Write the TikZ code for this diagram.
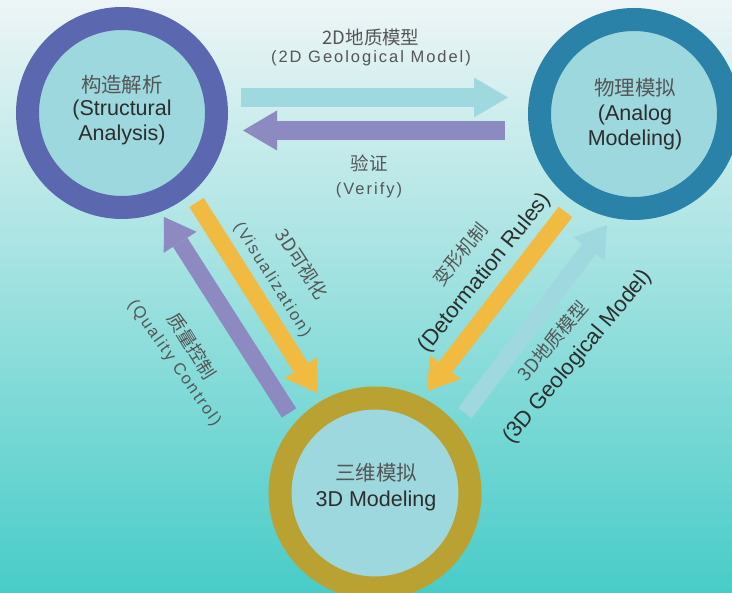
\documentclass[tikz,border=0pt]{standalone}
\usepackage{fontspec}
\setmainfont{Liberation Sans}
\newfontfamily\cjk{Noto Sans CJK SC}
\newfontfamily\spaced[LetterSpace=12]{Liberation Sans}
\usetikzlibrary{arrows.meta}
\definecolor{ringA}{RGB}{91,104,176}
\definecolor{ringB}{RGB}{43,130,168}
\definecolor{ringC}{RGB}{185,162,50}
\definecolor{innerfill}{RGB}{157,216,223}
\definecolor{arrcyan}{RGB}{159,217,223}
\definecolor{arrpurple}{RGB}{141,138,194}
\definecolor{arryellow}{RGB}{240,187,64}
\definecolor{txt}{RGB}{45,45,45}
\definecolor{zhgray}{RGB}{85,85,85}
\definecolor{lbl}{RGB}{85,85,85}
\definecolor{bgtop}{RGB}{238,245,246}
\definecolor{bgmid}{RGB}{172,219,222}
\definecolor{bgbot}{RGB}{72,204,200}
\begin{document}
\begin{tikzpicture}[x=1pt,y=-1pt,
  ring/.style={circle, fill=innerfill, line width=23pt, minimum size=189pt, inner sep=0pt},
  ctext/.style={font=\fontsize{21.5}{24}\selectfont, text=txt, inner sep=0pt},
  czh/.style={font=\cjk\fontsize{20.5}{24}\selectfont, text=zhgray, inner sep=0pt},
  lblzh/.style={font=\cjk\fontsize{18.5}{22}\selectfont, text=lbl, inner sep=0pt},
  lblen/.style={font=\spaced\fontsize{16.5}{20}\selectfont, text=lbl, inner sep=0pt},
  lblbig/.style={font=\fontsize{22}{26}\selectfont, text=txt, inner sep=0pt},
  fat/.style={line width=19pt, -{Triangle[length=34pt,width=40pt,line width=0pt]}},
  fatd/.style={line width=17pt, -{Triangle[length=30pt,width=39pt,line width=0pt]}},
]
\useasboundingbox (0,0) rectangle (732,593);
\clip (0,0) rectangle (732,593);
\shade[top color=bgtop, middle color=bgmid, bottom color=bgbot] (0,0) rectangle (732,593);

% circles
\node[ring, draw=ringA] (sa) at (122,113) {};
\node[ring, draw=ringB] (am) at (634,114) {};
\node[ring, draw=ringC, minimum size=190pt] (tm) at (375,493) {};

% circle texts
\node[czh] (sa1) at (122,85) {构造解析};
\node[ctext] (sa2) at (122,110) {(Structural};
\node[ctext] (sa3) at (122,135) {Analysis)};
\node[czh] (am1) at (635,88) {物理模拟};
\node[ctext] (am2) at (635,115) {(Analog};
\node[ctext] (am3) at (635,140) {Modeling)};
\node[czh] (tm1) at (376,473) {三维模拟};
\node[ctext] (tm2) at (376,501) {3D Modeling};

% arrow end points
\coordinate (h1s) at (241,97.5);  \coordinate (h1e) at (508,97.5);
\coordinate (h2s) at (505,130.5); \coordinate (h2e) at (243,130.5);
\coordinate (d1s) at (196.5,202.5); \coordinate (d1e) at (317,393);
\coordinate (d2s) at (289,413);   \coordinate (d2e) at (164,217);
\coordinate (d3s) at (565.5,212); \coordinate (d3e) at (427,391);
\coordinate (d4s) at (465,413);   \coordinate (d4e) at (607,225);

\draw[fat, arrcyan] (h1s) -- (h1e);
\draw[fat, arrpurple] (h2s) -- (h2e);
\draw[fatd, arryellow] (d1s) -- (d1e);
\draw[fatd, arrpurple] (d2s) -- (d2e);
\draw[fatd, arryellow] (d3s) -- (d3e);
\draw[fatd, arrcyan] (d4s) -- (d4e);

% arrow labels
\node[lblzh] (l1a) at (371,37) {2D地质模型};
\node[lblen] (l1b) at (371,58) {(2D Geological Model)};
\node[lblzh] (l2a) at (369,163) {验证};
\node[lblen] (l2b) at (369,190) {(Verify)};
\node[lblzh, rotate=-57] (l3a) at (302,264) {3D可视化};
\node[lblen, rotate=-58] (l3b) at (272,280) {(Visualization)};
\node[lblzh, rotate=-58] (l4a) at (192,346) {质量控制};
\node[lblen, rotate=-55] (l4b) at (174,363) {(Quality Control)};
\node[lblzh, rotate=51] (l5a) at (460,254) {变形机制};
\node[lblbig, rotate=51] (l5b) at (485,273) {(Detormation Rules)};
\node[lblzh, rotate=49] (l6a) at (553,341) {3D地质模型};
\node[lblbig, rotate=50] (l6b) at (578,357) {(3D Geological Model)};
\end{tikzpicture}
\end{document}
